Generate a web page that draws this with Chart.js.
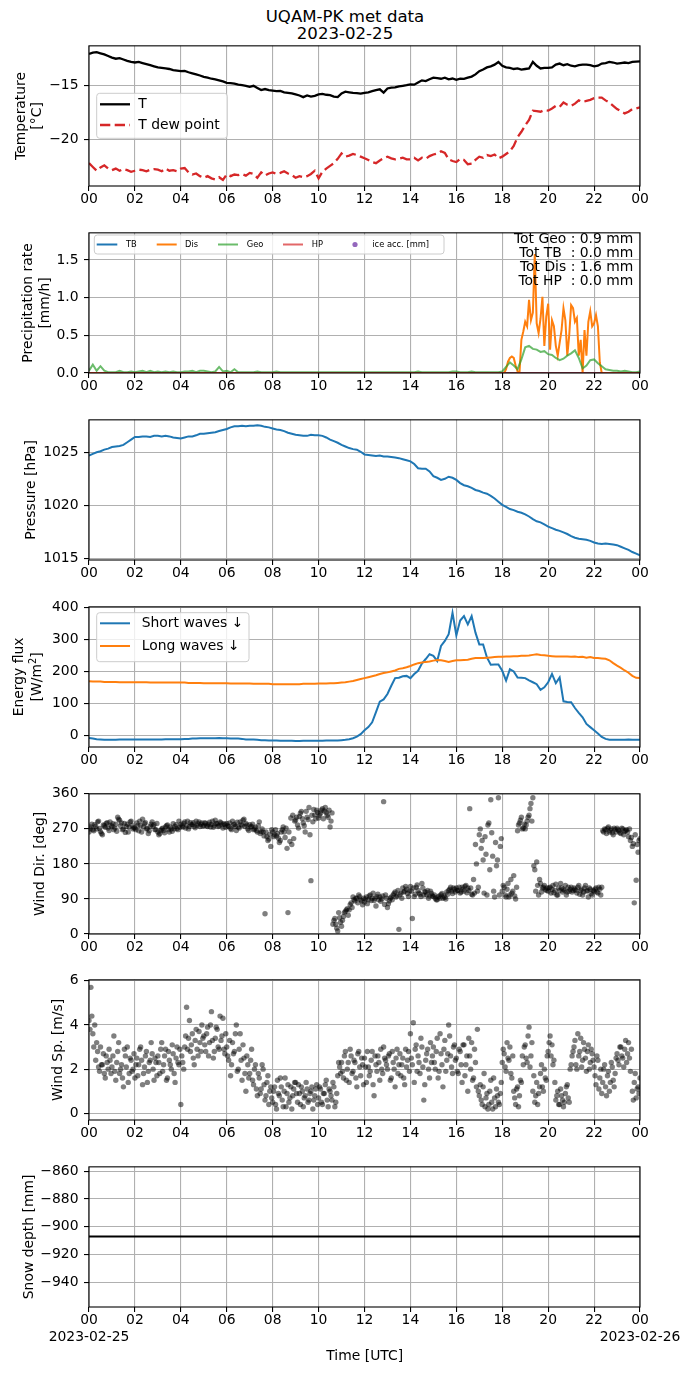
<!DOCTYPE html>
<html><head><meta charset="utf-8">
<script src="https://cdn.jsdelivr.net/npm/chart.js@4.4.1/dist/chart.umd.min.js"></script>
<style>
html,body{margin:0;padding:0;background:#fff;}
body{width:690px;height:1377px;position:relative;overflow:hidden;font-family:'DejaVu Sans',sans-serif;}
canvas{position:absolute;left:0;}
.title{position:absolute;left:0;width:690px;text-align:center;font-size:16.6px;line-height:17px;color:#000;}
</style></head><body>
<div class="title" style="top:8px">UQAM-PK met data<br>2023-02-25</div>
<canvas id="c0"></canvas><canvas id="c1"></canvas><canvas id="c2"></canvas><canvas id="c3"></canvas>
<canvas id="c4"></canvas><canvas id="c5"></canvas><canvas id="c6"></canvas>
<script>
// ---------------- DATA ----------------
const dateStart = '2023-02-25';
const dateEnd = '2023-02-26';
const xTickHours = [0,2,4,6,8,10,12,14,16,18,20,22,24];
const tempTicks = [-20,-15];
const precipTicks = [0,0.5,1.0,1.5];
const pressTicks = [1015,1020,1025];
const fluxTicks = [0,100,200,300,400];
const dirTicks = [0,90,180,270,360];
const speedTicks = [0,2,4,6];
const snowTicks = [-940,-920,-900,-880,-860];
const precipTotals = ['Tot Geo : 0.9 mm','Tot TB  : 0.0 mm','Tot Dis : 1.6 mm','Tot HP  : 0.0 mm'];

// temperature, 10-minute steps from 00:00 to 24:00
const tempT = [
-12.10,-11.98,-11.95,-12.05,-12.15,-12.30,
-12.45,-12.55,-12.50,-12.62,-12.75,-12.85,
-12.90,-12.85,-12.95,-13.05,-13.15,-13.25,
-13.35,-13.40,-13.45,-13.50,-13.60,-13.65,
-13.70,-13.68,-13.80,-13.90,-14.00,-14.10,
-14.22,-14.30,-14.40,-14.45,-14.55,-14.65,
-14.78,-14.80,-14.85,-14.95,-15.00,-15.05,
-15.15,-15.05,-15.25,-15.45,-15.35,-15.45,
-15.50,-15.55,-15.52,-15.65,-15.70,-15.75,
-15.85,-15.95,-16.10,-15.95,-16.05,-15.98,
-15.85,-15.80,-15.88,-15.92,-16.05,-16.10,
-15.75,-15.60,-15.65,-15.70,-15.72,-15.78,
-15.70,-15.65,-15.55,-15.45,-15.38,-15.68,
-15.30,-15.22,-15.20,-15.10,-15.05,-15.00,
-14.92,-14.95,-14.75,-14.55,-14.62,-14.45,
-14.30,-14.35,-14.40,-14.30,-14.45,-14.38,
-14.50,-14.40,-14.42,-14.30,-14.20,-14.00,
-13.70,-13.55,-13.35,-13.25,-13.10,-12.85,
-13.20,-13.35,-13.40,-13.50,-13.45,-13.55,
-13.50,-13.45,-12.85,-13.20,-13.45,-13.40,
-13.40,-13.35,-13.10,-13.00,-13.15,-13.05,
-13.20,-13.25,-13.15,-13.10,-13.10,-13.15,
-13.25,-13.20,-13.00,-12.95,-12.85,-12.90,
-13.00,-12.95,-12.90,-12.95,-12.85,-12.82,
-12.80];
const tempDew = [
-22.20,-22.55,-22.90,-22.60,-22.40,-22.70,
-22.85,-22.70,-22.90,-22.75,-22.85,-23.00,
-22.90,-22.80,-22.85,-22.95,-22.80,-22.75,
-22.80,-22.95,-22.70,-22.90,-22.85,-22.95,
-22.70,-22.65,-23.05,-23.25,-23.15,-23.40,
-23.55,-23.40,-23.60,-23.70,-23.50,-23.75,
-23.25,-23.40,-23.25,-23.30,-23.20,-23.35,
-23.10,-23.20,-23.55,-23.05,-23.35,-23.15,
-23.05,-23.20,-23.10,-22.95,-23.15,-23.30,
-23.55,-23.40,-23.50,-23.40,-23.20,-22.90,
-23.60,-23.00,-22.70,-22.45,-22.20,-21.80,
-21.30,-21.60,-21.50,-21.35,-21.45,-21.60,
-21.75,-21.90,-22.10,-22.20,-21.95,-21.75,
-21.60,-21.75,-21.85,-21.80,-21.70,-21.85,
-21.85,-21.70,-21.95,-21.70,-21.80,-21.55,
-21.40,-21.30,-21.10,-21.25,-21.85,-22.00,
-22.10,-21.80,-21.90,-22.30,-22.25,-21.90,
-21.60,-21.70,-21.45,-21.55,-21.40,-21.75,
-21.60,-21.35,-21.10,-20.60,-19.80,-19.30,
-18.70,-18.20,-17.35,-17.40,-17.45,-17.30,
-17.35,-17.15,-16.90,-17.00,-16.60,-16.80,
-16.90,-16.70,-16.40,-16.55,-16.45,-16.35,
-16.20,-16.15,-16.15,-16.40,-16.60,-16.90,
-17.20,-17.40,-17.60,-17.45,-17.20,-17.15,
-17.05];

// precipitation rates [mm/h]
const tbHours = [0,24];
const tbRate = [0,0];
const hpHours = [0,24];
const hpRate = [0,0];
const disZeroHours = [0,24];
// Dis: 5-minute steps from 18:00 to 23:00 (zero elsewhere)
const disStart = 18;
const disRate = [
0.00,0.00,0.05,0.15,0.20,0.22,
0.20,0.10,0.02,0.00,0.44,0.55,
0.68,0.62,0.97,0.70,0.80,1.58,
0.66,0.53,0.72,1.01,0.36,0.75,
0.92,0.31,0.70,0.62,0.36,0.23,
0.40,0.57,0.86,0.70,0.23,0.50,
0.90,0.86,0.68,0.73,0.23,0.44,
0.00,0.57,0.23,0.68,0.82,0.62,
0.66,0.77,0.62,0.14,0.00,0.00,
0.00,0.00,0.00,0.00,0.00,0.00,
0.00];
// Geo: 10-minute steps
const geoRate = [
0.03,0.11,0.03,0.09,0.03,0.01,
0.01,0.01,0.03,0.01,0.01,0.02,
0.01,0.02,0.03,0.01,0.03,0.01,
0.02,0.01,0.02,0.01,0.02,0.01,
0.01,0.02,0.02,0.03,0.01,0.03,
0.03,0.02,0.01,0.02,0.08,0.02,
0.03,0.01,0.05,0.01,0.01,0.01,
0.01,0.01,0.02,0.01,0.01,0.01,
0.01,0.02,0.01,0.01,0.01,0.01,
0.01,0.01,0.01,0.01,0.01,0.01,
0.01,0.01,0.01,0.01,0.01,0.01,
0.01,0.01,0.01,0.01,0.01,0.01,
0.01,0.01,0.01,0.01,0.01,0.01,
0.01,0.01,0.01,0.01,0.01,0.01,
0.01,0.01,0.02,0.01,0.01,0.01,
0.01,0.01,0.01,0.01,0.01,0.02,
0.02,0.01,0.01,0.01,0.02,0.01,
0.01,0.01,0.01,0.01,0.01,0.01,
0.02,0.08,0.14,0.10,0.05,0.18,
0.34,0.36,0.32,0.31,0.28,0.29,
0.25,0.24,0.20,0.17,0.19,0.23,
0.26,0.30,0.20,0.06,0.10,0.17,
0.18,0.13,0.09,0.05,0.04,0.03,
0.03,0.02,0.03,0.02,0.01,0.01,
0.02];

// pressure [hPa], 10-minute steps
const pressure = [
1024.70,1024.85,1025.00,1025.10,1025.25,1025.35,
1025.50,1025.55,1025.60,1025.70,1025.95,1026.20,
1026.45,1026.45,1026.50,1026.50,1026.45,1026.55,
1026.55,1026.50,1026.55,1026.50,1026.40,1026.35,
1026.30,1026.40,1026.50,1026.50,1026.60,1026.75,
1026.75,1026.80,1026.85,1026.90,1027.00,1027.10,
1027.20,1027.35,1027.45,1027.45,1027.50,1027.45,
1027.50,1027.50,1027.55,1027.50,1027.40,1027.35,
1027.25,1027.15,1027.10,1027.00,1026.85,1026.75,
1026.65,1026.60,1026.55,1026.55,1026.65,1026.60,
1026.60,1026.55,1026.40,1026.20,1026.05,1025.90,
1025.70,1025.55,1025.40,1025.30,1025.25,1025.05,
1024.80,1024.75,1024.70,1024.65,1024.70,1024.60,
1024.60,1024.55,1024.50,1024.45,1024.35,1024.25,
1024.15,1023.90,1023.50,1023.45,1023.45,1023.20,
1022.75,1022.60,1022.40,1022.50,1022.70,1022.60,
1022.40,1022.10,1021.90,1021.80,1021.65,1021.45,
1021.35,1021.20,1021.10,1020.90,1020.65,1020.35,
1020.05,1019.85,1019.65,1019.55,1019.40,1019.30,
1019.15,1018.95,1018.70,1018.50,1018.40,1018.20,
1018.00,1017.85,1017.70,1017.60,1017.45,1017.30,
1017.10,1016.95,1016.85,1016.80,1016.75,1016.65,
1016.50,1016.40,1016.35,1016.40,1016.35,1016.30,
1016.25,1016.10,1015.95,1015.80,1015.60,1015.45,
1015.30];

// energy flux [W/m2], 10-minute steps
const shortWaves = [
-9,-11,-13,-14,-15,-15,
-15,-15,-14,-14,-14,-14,
-14,-14,-14,-14,-14,-14,
-14,-14,-13,-13,-13,-13,
-13,-12,-12,-11,-11,-10,
-10,-10,-10,-10,-9,-10,
-10,-11,-11,-11,-12,-14,
-14,-14,-15,-16,-16,-17,
-17,-17,-18,-18,-18,-18,
-19,-19,-18,-18,-18,-18,
-18,-18,-17,-17,-17,-17,
-16,-15,-13,-10,-5,3,
15,25,40,72,105,112,
129,155,179,180,185,186,
179,192,202,225,239,254,
249,233,280,296,317,384,
313,360,374,348,374,322,
285,285,244,221,222,222,
202,171,207,200,181,180,
179,172,166,160,142,150,
166,192,163,181,106,104,
103,85,70,56,35,25,
15,5,-6,-12,-15,-15,
-15,-15,-15,-14,-15,-15,
-15];
const longWaves = [
169,168,168,168,167,167,
167,167,166,166,166,166,
166,166,166,166,165,165,
165,165,165,165,165,165,
165,165,164,164,164,164,
163,163,163,163,163,163,
162.5,162,162,162,162,162,
162,161,161,161,161,161,
160,160,160,160,160,160,
160,160,161,161,161,161,
162,162,162,163,163,164,
165,166,168,170,173,176,
179,182,185,188,192,195,
197,200,203,208,210,213,
217,222,226,228,230,231,
234,236,235,233,230,233,
235,235,236,237,240,242,
242,242,243,244,245,246,
246,247,247,248,248,249,
249,250,252,254,252,251,
249,248,247,247,247,247,
246,247,245,246,243,245,
242,242,241,240,235,226,
218,211,203,196,186,180,
179];

// wind direction [deg], 5-minute steps from 00:00
const windDir = [
262,275,268,281,270,290,263,255,278,284,272,288,
276,268,282,300,292,285,270,261,282,275,290,270,
272,285,265,279,295,283,270,258,276,288,281,268,
262,258,270,266,275,280,262,270,283,276,271,290,
282,275,288,279,270,286,281,277,290,283,276,285,
279,284,276,287,281,274,292,283,278,285,272,281,
284,276,271,290,282,266,275,288,279,295,284,270,
281,276,268,274,262,288,263,262,52,250,244,225,
262,255,252,246,240,268,262,272,55,238,230,245,
293,280,302,315,285,262,300,325,137,288,306,318,
298,310,322,316,312,300,275,311,35,25,8,42,
20,45,58,65,62,80,95,85,92,100,88,75,
82,95,88,100,92,86,72,102,95,90,340,100,
68,85,95,100,108,98,12,105,118,110,115,96,
122,40,96,120,112,102,130,100,108,112,98,104,
96,92,88,98,101,92,94,108,112,120,104,115,
118,112,105,120,110,125,118,322,102,140,230,110,
255,220,190,250,100,285,345,200,95,175,350,225,
110,120,95,130,100,105,150,90,265,285,300,272,
270,290,305,335,350,165,185,100,130,118,125,112,
110,120,115,106,128,100,112,118,115,125,108,110,
120,112,115,105,125,112,100,118,110,95,115,100,
110,118,105,115,120,262,268,272,262,270,255,268,
272,265,258,270,264,268,250,240,225,80,138,210,
245];
// wind direction [deg], 5-minute steps from 00:02:30
const windDir2 = [
270,282,265,276,288,271,258,280,274,286,266,279,
283,272,264,295,278,268,284,276,262,288,279,273,
268,279,290,262,275,286,271,265,282,277,268,284,
255,266,272,260,278,268,275,264,270,281,268,274,
278,284,272,290,276,281,286,273,279,288,282,277,
286,278,282,275,290,279,284,276,288,280,283,274,
278,285,268,280,276,287,272,281,292,276,280,266,
275,282,270,266,278,258,270,252,262,240,256,268,
250,268,258,235,262,275,248,220,262,298,305,290,
300,272,310,296,278,315,294,255,305,320,296,312,
305,318,296,325,305,318,290,25,40,15,55,30,
35,55,62,48,75,68,88,92,80,96,85,92,
90,78,98,86,105,92,96,88,84,98,76,92,
78,92,88,104,95,112,100,92,108,122,104,110,
110,118,102,126,105,96,118,108,100,92,110,98,
100,88,95,92,104,98,90,102,115,110,118,108,
112,120,108,115,122,106,112,118,100,105,180,120,
270,240,105,205,280,165,260,110,235,190,100,245,
125,100,115,95,140,110,98,120,280,292,270,282,
280,300,322,290,175,110,125,140,108,120,115,118,
118,105,125,112,100,118,130,108,112,100,120,115,
108,118,112,120,102,115,108,125,112,118,104,112,
115,108,120,100,265,270,258,275,266,260,272,262,
268,260,272,255,266,262,270,248,232,255,230,240];
// wind speed [m/s], 5-minute steps from 00:00
const windSpeed = [
4.2,5.7,3.6,4.0,3.2,2.1,3.0,2.2,1.8,2.6,2.0,2.4,
2.1,3.5,1.5,2.8,1.8,2.2,1.2,2.6,3.0,1.8,2.4,2.0,
1.6,2.5,2.2,3.0,1.3,2.1,2.8,1.9,2.4,2.7,1.5,2.3,
2.6,1.8,3.2,2.2,2.9,1.6,2.4,2.0,2.7,1.4,3.0,2.2,
0.4,2.3,3.0,4.8,3.4,2.8,3.6,2.2,3.8,2.6,3.2,4.0,
3.5,2.8,3.9,3.2,4.6,2.5,3.4,3.8,2.9,3.3,4.3,2.7,
3.0,2.4,1.7,3.2,2.8,4.0,2.0,3.6,1.5,2.5,1.0,2.2,
1.8,2.9,1.3,2.2,0.8,1.6,1.1,2.0,0.6,1.4,0.4,1.2,
0.5,1.2,0.2,0.9,1.6,0.6,1.0,0.3,1.3,0.7,0.2,1.1,
1.4,0.5,0.9,1.2,0.3,0.8,1.1,0.6,1.0,0.2,0.8,1.3,
0.7,1.1,0.4,0.9,1.5,0.3,1.0,0.6,1.2,0.5,1.7,2.1,
2.3,1.6,2.8,2.0,1.4,2.6,1.9,2.3,1.2,2.8,1.7,2.2,
2.5,1.4,2.1,1.9,2.8,0.8,2.2,2.6,1.5,2.0,3.0,2.4,
2.0,2.7,1.6,2.3,1.2,2.9,2.2,1.7,2.5,1.3,2.1,2.8,
3.6,2.2,1.4,3.1,2.6,1.8,3.0,0.6,2.4,2.9,1.6,2.3,
3.0,2.0,3.4,1.9,2.7,1.2,3.3,2.4,4.0,2.6,1.8,3.1,
2.5,1.8,2.8,1.4,3.1,2.2,1.0,2.6,3.2,1.6,2.3,3.8,
0.8,0.6,1.2,0.3,0.9,0.4,1.5,0.2,0.7,1.1,0.5,0.9,
2.3,2.7,1.9,2.5,3.0,1.6,1.0,0.4,1.2,0.8,1.4,2.2,
3.1,2.3,3.9,2.6,1.0,0.5,1.4,0.9,1.8,1.2,2.0,1.5,
2.8,3.5,3.1,2.4,0.6,1.0,0.4,0.8,0.3,0.9,1.3,0.5,
2.2,2.8,3.3,2.0,2.6,3.4,2.4,2.9,1.9,3.1,2.3,2.7,
2.1,1.3,2.4,1.6,0.9,2.0,1.2,1.7,1.0,2.3,1.5,1.8,
2.7,2.2,3.0,2.5,2.9,2.3,3.2,1.9,1.0,1.4,0.7,1.2,
1.6];
// wind speed [m/s], 5-minute steps from 00:02:30
const windSpeed2 = [
3.8,4.4,3.0,2.4,2.8,1.9,2.2,2.7,1.6,2.3,2.9,1.8,
2.6,1.9,2.3,3.2,2.0,1.6,2.9,2.1,1.4,2.5,1.9,2.7,
2.2,1.7,2.9,2.4,1.8,2.6,1.4,2.3,3.2,2.0,2.5,1.7,
2.3,2.9,1.9,2.6,1.5,2.8,2.2,3.1,1.8,2.5,2.3,2.9,
2.6,2.0,3.5,2.9,4.2,3.1,2.5,3.3,2.9,3.7,2.8,3.4,
3.1,3.6,2.6,4.0,3.3,2.8,3.9,3.0,4.4,3.5,2.9,3.6,
2.6,3.3,2.2,2.7,3.6,1.9,2.9,2.4,3.1,1.8,2.6,1.6,
2.4,1.5,2.0,1.1,1.8,0.9,2.2,1.3,0.8,1.7,1.0,0.7,
1.0,0.4,1.5,0.8,1.2,0.3,1.6,0.9,0.5,1.2,0.8,1.4,
0.9,1.3,0.4,1.0,0.7,1.4,0.5,0.9,1.2,0.6,1.1,0.4,
1.2,0.5,0.9,1.3,0.6,1.1,0.8,1.4,0.3,0.9,2.3,1.8,
1.9,2.6,1.5,2.3,2.9,1.8,2.4,1.6,2.7,2.1,2.5,1.3,
2.1,2.8,1.7,2.4,1.3,2.6,1.9,2.3,2.9,1.8,2.5,2.2,
2.6,1.5,2.8,2.0,2.5,1.8,2.7,2.2,1.6,2.9,2.4,1.9,
2.5,4.1,2.9,1.9,2.3,3.4,2.1,1.3,2.7,2.0,3.2,2.6,
2.3,2.8,1.6,3.6,2.2,2.9,1.9,2.7,3.5,2.1,3.0,2.4,
1.9,2.9,2.2,3.1,1.7,2.6,3.4,2.0,1.5,2.9,1.2,1.0,
1.3,0.4,1.8,0.7,0.2,1.0,0.5,1.6,0.3,0.8,0.4,1.4,
2.9,2.1,3.2,2.4,1.8,2.6,0.7,1.1,0.3,1.5,2.6,3.0,
2.5,3.5,2.1,3.2,1.7,0.8,0.4,1.2,2.2,1.0,1.6,2.6,
3.2,2.6,2.2,1.4,0.8,0.4,1.1,0.6,0.5,1.2,0.7,2.0,
2.6,3.0,2.2,3.6,2.8,2.1,3.2,2.5,2.8,2.0,2.9,2.4,
1.7,2.6,1.1,2.0,1.4,2.2,0.8,1.9,1.4,2.1,1.2,2.5,
2.4,3.0,2.6,2.1,3.3,2.7,2.5,2.9,0.6,1.8,1.1,0.9];

// snow depth [mm]
const snowHours = [0,24];
const snowDepth = [-907,-907];

// ---------------- RENDERING ----------------
const FONT = 'DejaVu Sans';
const FS = 13.9;
Chart.defaults.font.family = FONT;
Chart.defaults.font.size = FS;
Chart.defaults.color = '#000';

const STEP10 = 1/6, STEP5 = 1/12, HALF5 = 1/24;
function pts(vals, step, start){ return vals.map((v,i)=>({x:(start||0)+i*step, y:v})); }
function xy(xs, ys){ return xs.map((x,i)=>({x:x, y:ys[i]})); }
const minusFmt = v => (v<0?'\u2212':'') + Math.abs(v);

const DECOR = {};
const decorPlugin = {
  id:'decor',
  afterDatasetsDraw(chart){
    const ctx = chart.ctx, a = chart.chartArea;
    ctx.save(); ctx.strokeStyle='#000'; ctx.lineWidth=1.1;
    ctx.strokeRect(a.left, a.top, a.right-a.left, a.bottom-a.top);
    ctx.restore();
  },
  afterDraw(chart){
    const d = DECOR[chart.canvas.id]; if(!d) return;
    const ctx = chart.ctx, a = chart.chartArea, off = d.top;
    const cy = (a.top + a.bottom)/2;
    (d.ylab||[]).forEach(l => {
      ctx.save(); ctx.translate(l.x, cy); ctx.rotate(-Math.PI/2);
      ctx.fillStyle='#000'; ctx.textBaseline='alphabetic';
      if (l.parts){
        let w = 0;
        l.parts.forEach(p=>{ ctx.font = p.size+'px "'+FONT+'"'; p.w = ctx.measureText(p.t).width; w += p.w; });
        let x = -w/2; ctx.textAlign='left';
        l.parts.forEach(p=>{ ctx.font = p.size+'px "'+FONT+'"'; ctx.fillText(p.t, x, p.dy||0); x += p.w; });
      } else {
        ctx.font = FS+'px "'+FONT+'"'; ctx.textAlign='center'; ctx.fillText(l.t, 0, 0);
      }
      ctx.restore();
    });
    if (d.legend){
      const L = d.legend; const b = L.box;
      ctx.save();
      const x1=b[0], y1=b[1]-off, x2=b[2], y2=b[3]-off, r=3;
      ctx.beginPath();
      ctx.moveTo(x1+r,y1); ctx.lineTo(x2-r,y1); ctx.quadraticCurveTo(x2,y1,x2,y1+r);
      ctx.lineTo(x2,y2-r); ctx.quadraticCurveTo(x2,y2,x2-r,y2); ctx.lineTo(x1+r,y2);
      ctx.quadraticCurveTo(x1,y2,x1,y2-r); ctx.lineTo(x1,y1+r); ctx.quadraticCurveTo(x1,y1,x1+r,y1);
      ctx.closePath();
      ctx.fillStyle='rgba(255,255,255,0.8)'; ctx.fill();
      ctx.strokeStyle='#cccccc'; ctx.lineWidth=1; ctx.stroke();
      L.items.forEach(it => {
        const y = it.y - off;
        if (it.marker){
          ctx.beginPath(); ctx.arc(it.mx, y, 2.6, 0, Math.PI*2); ctx.fillStyle=it.color; ctx.fill();
        } else {
          ctx.beginPath(); ctx.setLineDash(it.dash||[]); ctx.strokeStyle=it.color; ctx.lineWidth=it.lw||2;
          ctx.moveTo(it.x1, y); ctx.lineTo(it.x2, y); ctx.stroke(); ctx.setLineDash([]);
        }
        ctx.font = (L.fs||FS)+'px "'+FONT+'"'; ctx.fillStyle='#000';
        ctx.textAlign='left'; ctx.textBaseline='middle';
        ctx.fillText(it.text, it.tx, y);
      });
      ctx.restore();
    }
    (d.texts||[]).forEach(t => {
      ctx.save(); ctx.font = (t.size||FS)+'px "'+FONT+'"'; ctx.fillStyle='#000';
      ctx.textAlign = t.align||'center'; ctx.textBaseline='middle';
      ctx.fillText(t.t, t.x, t.y - off); ctx.restore();
    });
  }
};
Chart.register(decorPlugin);

function gridOpts(){ return {color:'#b0b0b0', lineWidth:1.1, tickColor:'#000', tickLength:5, tickWidth:1.1, drawTicks:true}; }
function xScale(last){
  return {type:'linear', min:0, max:24,
    afterBuildTicks(s){ s.ticks = xTickHours.map(v=>({value:v})); },
    afterFit(s){ s.height = last ? 70 : 48; },
    ticks:{autoSkip:false, maxRotation:0, minRotation:0, padding:0, color:'#000', font:{size:FS},
      callback(v){ const h = String(v%24).padStart(2,'0');
        if (last){ if (v===0) return [h, dateStart]; if (v===24) return [h, dateEnd]; }
        return h; }},
    grid:gridOpts(), border:{display:false}};
}
function yScale(min, max, ticks, fmt){
  return {type:'linear', min:min, max:max,
    afterBuildTicks(s){ s.ticks = ticks.map(v=>({value:v})); },
    afterFit(s){ s.width = 89; },
    ticks:{padding:5.5, color:'#000', font:{size:FS}, callback: fmt},
    grid:gridOpts(), border:{display:false}};
}

const PANEL_TOPS = [44, 231, 418, 605, 792, 978, 1165];
function makeChart(i, type, datasets, yOpts, decor){
  const last = (i === 6);
  const c = document.getElementById('c'+i);
  const top = PANEL_TOPS[i] - 12;
  const h = last ? (1377 - top) : 202;
  c.width = 690; c.height = h; c.style.top = top+'px';
  decor.top = top;
  DECOR['c'+i] = decor;
  return new Chart(c.getContext('2d'), {
    type: type,
    data: {datasets: datasets},
    options: {responsive:false, animation:false, events:[],
      layout:{padding:{top:12, right:50, left:0, bottom:0}},
      plugins:{legend:{display:false}, tooltip:{enabled:false}},
      scales:{x:xScale(last), y:yOpts}}
  });
}
const lineDs = (data, color, lw, extra) => Object.assign({data:data, borderColor:color, backgroundColor:color, borderWidth:lw||2, pointRadius:0, tension:0, fill:false}, extra||{});

// 1. Temperature
makeChart(0, 'line', [
  lineDs(pts(tempDew, STEP10), '#d62728', 2.3, {borderDash:[10.3,4.4]}),
  lineDs(pts(tempT, STEP10), '#000000', 2.3)
], yScale(-24.31, -11.36, tempTicks, minusFmt), {
  ylab:[{t:'Temperature', x:24.7},{t:'[°C]', x:41.4}],
  legend:{box:[96.7,93.3,227.3,138.3], items:[
    {x1:100,x2:130,y:104.3,color:'#000',lw:2.3,text:'T',tx:138.3},
    {x1:100,x2:130,y:125,color:'#d62728',lw:2.3,dash:[10.3,4.4],text:'T dew point',tx:138.3}]}
});

// 2. Precipitation
const disData = [{x:disZeroHours[0], y:0}].concat(pts(disRate, STEP5, disStart)).concat([{x:disZeroHours[1], y:0}]);
makeChart(1, 'line', [
  lineDs(xy(hpHours, hpRate), 'rgba(214,39,40,0.7)', 2),
  lineDs(pts(geoRate, STEP10), 'rgba(44,160,44,0.7)', 2),
  lineDs(disData, '#ff7f0e', 2),
  lineDs(xy(tbHours, tbRate), '#1f77b4', 2)
], yScale(0, 1.86, precipTicks, v=>v.toFixed(1)), {
  ylab:[{t:'Precipitation rate', x:31.9},{t:'[mm/h]', x:48.6}],
  legend:{fs:8.3, box:[94.3,235,444,254], items:[
    {x1:96.7,x2:117.3,y:244.5,color:'#1f77b4',text:'TB',tx:126},
    {x1:156.7,x2:176.7,y:244.5,color:'#ff7f0e',text:'Dis',tx:185},
    {x1:218,x2:238,y:244.5,color:'rgba(44,160,44,0.7)',text:'Geo',tx:246.7},
    {x1:283,x2:303,y:244.5,color:'rgba(214,39,40,0.7)',text:'HP',tx:311.7},
    {marker:true, mx:355, y:244.5, color:'#9467bd', text:'ice acc. [mm]', tx:372.3}]},
  texts: precipTotals.map((t,k)=>({t:t, x:633.3, y:239.3+14*k, align:'right'}))
});

// 3. Pressure
makeChart(2, 'line', [
  lineDs(pts(pressure, STEP10), '#1f77b4', 2)
], yScale(1014.85, 1028.06, pressTicks, v=>String(v)), {
  ylab:[{t:'Pressure [hPa]', x:35.3}]
});

// 4. Energy flux
makeChart(3, 'line', [
  lineDs(pts(longWaves, STEP10), '#ff7f0e', 2),
  lineDs(pts(shortWaves, STEP10), '#1f77b4', 2)
], yScale(-37.5, 403, fluxTicks, minusFmt), {
  ylab:[{t:'Energy flux', x:22.5},{x:41, parts:[{t:'[W/m',size:FS},{t:'2',size:9.7,dy:-5.5},{t:']',size:FS}]}],
  legend:{box:[96.7,612.7,249,661.7], items:[
    {x1:100,x2:130,y:623.3,color:'#1f77b4',text:'Short waves \u2193',tx:141.7},
    {x1:100,x2:130,y:646,color:'#ff7f0e',text:'Long waves \u2193',tx:141.7}]}
});

// 5. Wind direction
const scatterDs = data => ({data:data, showLine:false, pointRadius:2.7, pointBorderWidth:0, pointBackgroundColor:'rgba(0,0,0,0.5)', borderColor:'rgba(0,0,0,0)', backgroundColor:'rgba(0,0,0,0.5)'});
makeChart(4, 'scatter', [scatterDs(pts(windDir, STEP5).concat(pts(windDir2, STEP5, HALF5)))], yScale(0, 360, dirTicks, v=>String(v)), {
  ylab:[{t:'Wind Dir. [deg]', x:44.2}]
});

// 6. Wind speed
makeChart(5, 'scatter', [scatterDs(pts(windSpeed, STEP5).concat(pts(windSpeed2, STEP5, HALF5)))], yScale(-0.3, 6.04, speedTicks, v=>String(v)), {
  ylab:[{t:'Wind Sp. [m/s]', x:61.5}]
});

// 7. Snow depth
makeChart(6, 'line', [
  lineDs(xy(snowHours, snowDepth), '#000000', 2)
], yScale(-957.6, -856.9, snowTicks, minusFmt), {
  ylab:[{t:'Snow depth [mm]', x:32.5}],
  texts:[{t:'Time [UTC]', x:364.7, y:1356.6}]
});
</script>
</body></html>
